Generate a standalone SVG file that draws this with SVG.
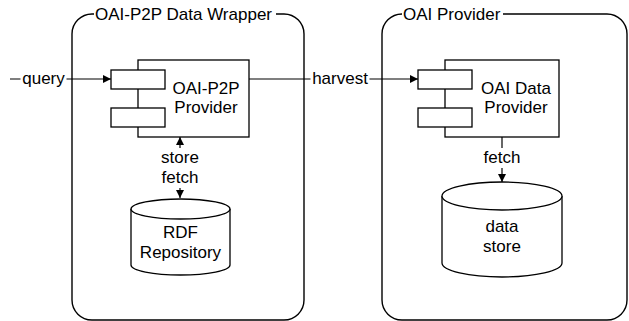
<svg xmlns="http://www.w3.org/2000/svg" width="629" height="321" viewBox="0 0 629 321">
  <defs>
    <marker id="arrow" viewBox="0 0 8 8" refX="8" refY="4" markerWidth="8" markerHeight="8" markerUnits="userSpaceOnUse" orient="auto-start-reverse">
      <path d="M0,0 L8,4 L0,8 Z" fill="#000"/>
    </marker>
    <style>
      .frame { fill: none; stroke: #000; stroke-width: 1.4; }
      .shape { fill: #fff; stroke: #000; stroke-width: 1.3; }
      .edge { fill: none; stroke: #000; stroke-width: 1.2; }
      .lbl { font-family: "Liberation Sans", Arial, sans-serif; font-size: 17px; fill: #000; text-anchor: middle; }
      .title { font-family: "Liberation Sans", Arial, sans-serif; font-size: 17px; fill: #000; }
      .bg { fill: #fff; }
    </style>
  </defs>

  <rect width="629" height="321" fill="#fff"/>

  <!-- Containers -->
  <g id="wrapper">
    <rect class="frame" x="72" y="14" width="232" height="306" rx="20" ry="20"/>
    <rect class="bg" x="94" y="6" width="182" height="16"/>
    <text class="title" x="95" y="20">OAI-P2P Data Wrapper</text>
  </g>
  <g id="oai-provider">
    <rect class="frame" x="382" y="14" width="245" height="306" rx="20" ry="20"/>
    <rect class="bg" x="402" y="6" width="101" height="16"/>
    <text class="title" x="403" y="20">OAI Provider</text>
  </g>

  <!-- Connectors -->
  <g id="connectors">
    <line class="edge" x1="10" y1="79" x2="111" y2="79" marker-end="url(#arrow)"/>
    <rect class="bg" x="20.5" y="68" width="46" height="20"/>
    <text class="lbl" x="43.5" y="84">query</text>

    <line class="edge" x1="249" y1="79" x2="418" y2="79" marker-end="url(#arrow)"/>
    <rect class="bg" x="310.5" y="68" width="59" height="20"/>
    <text class="lbl" x="340" y="84">harvest</text>

    <line class="edge" x1="180" y1="198" x2="180" y2="137" marker-start="url(#arrow)" marker-end="url(#arrow)"/>
    <rect class="bg" x="158" y="148" width="44" height="40"/>
    <text class="lbl" x="180" y="163">store</text>
    <text class="lbl" x="180" y="183">fetch</text>

    <line class="edge" x1="502" y1="137" x2="502" y2="182" marker-end="url(#arrow)"/>
    <rect class="bg" x="480" y="148" width="44" height="20"/>
    <text class="lbl" x="502" y="163">fetch</text>
  </g>

  <!-- Components -->
  <g id="oai-p2p-provider">
    <rect class="shape" x="138" y="60" width="111" height="77"/>
    <rect class="shape" x="111" y="70" width="54" height="19"/>
    <rect class="shape" x="111" y="108" width="54" height="19"/>
    <text class="lbl" x="206" y="94">OAI-P2P</text>
    <text class="lbl" x="206" y="113">Provider</text>
  </g>
  <g id="oai-data-provider">
    <rect class="shape" x="445" y="60" width="114" height="77"/>
    <rect class="shape" x="418" y="70" width="54" height="19"/>
    <rect class="shape" x="418" y="108" width="54" height="19"/>
    <text class="lbl" x="516" y="94">OAI Data</text>
    <text class="lbl" x="516" y="113">Provider</text>
  </g>

  <!-- Repositories -->
  <g id="rdf-repository">
    <path class="shape" d="M131,209 L131,265 A49.5,10 0 0 0 230,265 L230,209 A49.5,10 0 0 0 131,209 Z"/>
    <path class="shape" d="M131,209 A49.5,10 0 0 0 230,209" fill="none"/>
    <text class="lbl" x="180.5" y="238">RDF</text>
    <text class="lbl" x="180.5" y="258">Repository</text>
  </g>
  <g id="data-store">
    <path class="shape" d="M442,196 L442,263 A60,14 0 0 0 562,263 L562,196 A60,14 0 0 0 442,196 Z"/>
    <path class="shape" d="M442,196 A60,14 0 0 0 562,196" fill="none"/>
    <text class="lbl" x="502" y="232">data</text>
    <text class="lbl" x="502" y="252">store</text>
  </g>
</svg>
